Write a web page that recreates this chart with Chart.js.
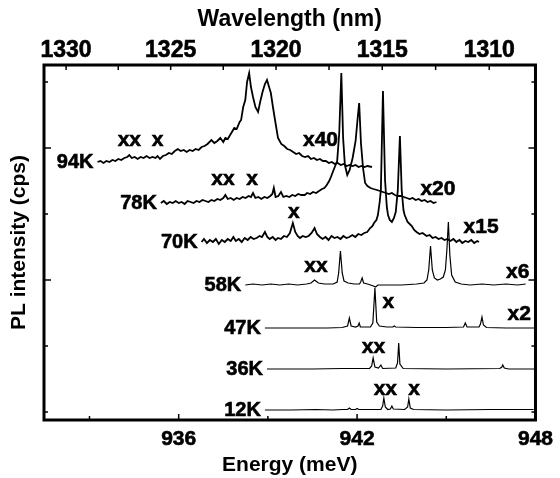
<!DOCTYPE html>
<html>
<head>
<meta charset="utf-8">
<script src="https://cdn.jsdelivr.net/npm/chart.js@4.4.1/dist/chart.umd.min.js"></script>
<style>
  html, body { margin: 0; padding: 0; background: #fff; }
  #wrap { width: 560px; height: 478px; position: relative; }
</style>
</head>
<body>
<div id="wrap"><canvas id="chart"></canvas></div>
<script>
// PL spectra vs temperature, traces stacked with an offset
// energy in meV, intensity in arb. units above each trace's baseline

var temps = ['12K', '36K', '47K', '58K', '70K', '78K', '94K'];
var offsets = [2, 43, 84, 127, 170, 209, 250];

var s12 = [[938.9,0],[939.8,0],[940.6,0.5],[941.2,0],[941.5,0.5],[941.68,0.5],[941.74,2],[941.8,0.5],[941.95,0.5],[942.0,1.5],[942.06,0.5],[942.8,0.5],[942.86,4],[942.9,12],[942.95,3],[943.03,0.5],[943.12,1],[943.17,4],[943.22,1],[943.6,0.5],[943.7,3],[943.74,11],[943.79,2],[943.9,0.5],[945.0,0],[946.5,0.5],[947.94,0.5]];

var s36 = [[938.97,0],[940.5,0],[941.5,0.5],[942.42,0.5],[942.49,3],[942.54,11],[942.6,2],[942.72,1],[942.8,4],[942.86,0.5],[943.3,1],[943.36,6],[943.4,26],[943.44,5],[943.55,0.5],[945.0,0],[946.8,0.5],[946.87,2],[946.9,4],[946.95,1],[947.1,0],[948,0]];

var s47 = [[938.9,0],[940.0,0],[941.0,0],[941.5,0.5],[941.68,2],[941.74,10],[941.8,2],[941.95,1],[942.03,2],[942.07,5],[942.11,1],[942.45,1],[942.53,5],[942.6,40],[942.66,6],[942.75,2],[943.0,1],[943.2,1],[943.25,2],[943.3,1],[944.0,0.5],[945.0,0.5],[945.58,1],[945.64,5],[945.7,1],[946.1,1],[946.15,4],[946.2,11],[946.25,3],[946.35,0.5],[947.0,0],[948,0]];

var s58 = [[938.24,0],[938.5,1],[938.8,0],[939.1,1],[939.4,0],[939.7,1],[940.0,0],[940.3,1],[940.45,2],[940.57,5],[940.7,2],[940.9,1],[941.2,1],[941.33,3],[941.38,12],[941.44,34],[941.5,12],[941.56,4],[941.7,2],[941.9,1],[942.08,1],[942.12,3],[942.17,7],[942.22,2],[942.35,1],[942.55,-1],[942.62,-2],[942.7,0],[943.0,0],[943.5,0],[944.0,1],[944.25,2],[944.35,5],[944.41,15],[944.47,39],[944.53,15],[944.6,7],[944.7,5],[944.8,6],[944.9,8],[944.97,15],[945.02,35],[945.07,63],[945.12,30],[945.18,10],[945.3,3],[945.5,1],[945.8,0],[946.2,1],[946.6,0],[947.0,1],[947.4,0],[947.67,1]];

var s70 = [[936.77,0],[936.85,3],[936.95,-1],[937.05,2],[937.15,0],[937.25,3],[937.35,-2],[937.45,2],[937.55,0],[937.65,3],[937.75,1],[937.84,5],[937.92,1],[938.02,3],[938.12,0],[938.22,4],[938.32,2],[938.42,5],[938.52,3],[938.62,4],[938.72,6],[938.8,5],[938.9,10],[938.98,5],[939.06,3],[939.16,5],[939.26,2],[939.34,4],[939.44,3],[939.54,6],[939.64,5],[939.74,9],[939.84,19],[939.92,10],[940.0,6],[940.08,4],[940.17,6],[940.27,5],[940.37,6],[940.47,9],[940.57,14],[940.65,8],[940.75,5],[940.84,3],[940.94,5],[941.04,2],[941.14,6],[941.24,4],[941.34,5],[941.44,3],[941.54,6],[941.64,4],[941.74,5],[941.84,7],[941.94,5],[942.04,8],[942.14,7],[942.24,9],[942.34,10],[942.44,14],[942.52,16],[942.57,19],[942.65,22],[942.7,27],[942.76,40],[942.8,52],[942.87,151],[942.94,62],[943.0,35],[943.04,27],[943.1,22],[943.17,20],[943.24,24],[943.3,30],[943.37,52],[943.44,106],[943.5,52],[943.56,32],[943.6,27],[943.7,20],[943.84,16],[943.92,12],[944.0,10],[944.1,8],[944.2,9],[944.34,6],[944.44,7],[944.54,4],[944.64,5],[944.74,3],[944.84,4],[944.94,2],[945.04,3],[945.14,1],[945.24,3],[945.34,0],[945.44,2],[945.54,-1],[945.64,1],[945.74,0],[945.84,2],[945.94,-1],[946.04,1],[946.1,0]];

var s78 = [[935.4,0],[935.5,2],[935.6,-1],[935.7,1],[935.8,0],[935.9,2],[936.0,0],[936.1,1],[936.2,-1],[936.3,2],[936.4,1],[936.5,0],[936.6,2],[936.7,1],[936.8,3],[936.9,2],[937.0,1],[937.1,3],[937.2,2],[937.3,4],[937.4,3],[937.5,5],[937.57,8],[937.65,4],[937.75,5],[937.85,3],[937.95,5],[938.05,4],[938.15,6],[938.25,5],[938.35,7],[938.43,6],[938.5,10],[938.58,5],[938.68,6],[938.78,4],[938.88,6],[938.98,5],[939.08,7],[939.15,9],[939.2,15],[939.26,6],[939.35,7],[939.44,11],[939.52,6],[939.62,7],[939.72,6],[939.82,8],[939.92,7],[940.02,9],[940.12,8],[940.24,8],[940.32,10],[940.42,9],[940.52,11],[940.62,10],[940.72,12],[940.82,14],[940.9,15],[940.98,18],[941.06,22],[941.12,26],[941.17,30],[941.25,36],[941.33,42],[941.4,70],[941.47,130],[941.53,65],[941.59,38],[941.67,28],[941.75,33],[941.85,45],[941.95,62],[942.02,85],[942.07,100],[942.13,60],[942.2,35],[942.27,20],[942.35,17],[942.45,15],[942.55,14],[942.67,13],[942.77,12],[942.87,11],[942.97,10],[943.07,9],[943.17,10],[943.27,8],[943.37,7],[943.47,7],[943.57,6],[943.67,5],[943.77,4],[943.87,5],[943.97,3],[944.07,4],[944.17,2],[944.27,3],[944.37,1],[944.47,2],[944.57,0],[944.67,1]];

var s94 = [[933.27,0],[933.37,1],[933.47,-1],[933.57,1],[933.67,0],[933.77,2],[933.87,1],[933.97,3],[934.07,2],[934.17,4],[934.27,5],[934.34,7],[934.42,4],[934.52,5],[934.62,3],[934.72,5],[934.82,4],[934.92,6],[935.02,4],[935.12,5],[935.22,4],[935.29,6],[935.37,3],[935.47,6],[935.57,7],[935.67,9],[935.77,8],[935.87,11],[935.97,13],[936.07,11],[936.17,12],[936.27,10],[936.37,12],[936.47,11],[936.57,13],[936.67,12],[936.77,15],[936.87,16],[936.97,18],[937.1,22],[937.2,19],[937.3,21],[937.4,24],[937.5,20],[937.57,24],[937.65,23],[937.75,28],[937.87,34],[937.95,33],[938.05,40],[938.1,42],[938.17,55],[938.24,62],[938.3,80],[938.37,89],[938.43,75],[938.5,65],[938.58,55],[938.67,50],[938.74,60],[938.82,70],[938.9,78],[938.97,82],[939.04,75],[939.1,69],[939.17,55],[939.24,42],[939.34,24],[939.45,18],[939.55,16],[939.65,13],[939.75,12],[939.85,10],[939.95,8],[940.05,9],[940.15,6],[940.25,5],[940.35,6],[940.45,3],[940.55,4],[940.65,2],[940.75,3],[940.85,1],[940.95,1],[941.05,-1],[941.15,0],[941.25,-2],[941.35,-1],[941.45,-3],[941.55,-2],[941.65,-4],[941.75,-3],[941.85,-4],[941.95,-3],[942.05,-5],[942.15,-4],[942.25,-5],[942.35,-4],[942.5,-5]];

var spectra = [s12, s36, s47, s58, s70, s78, s94];
var noisy = [false, false, false, false, true, true, true];

// axis ticks
var energyTicks = [933, 936, 939, 942, 945, 948];
var energyLabels = [936, 942, 948];
var wlTicks = [1330, 1327.5, 1325, 1322.5, 1320, 1317.5, 1315, 1312.5, 1310];
var wlLabels = [1330, 1325, 1320, 1315, 1310];
var yTicks = [0, 66, 132, 198, 264, 330];
var yMajor = [132, 264];

// peak annotations (XX = biexciton, X = exciton) and scale factors
var notes = [
  { t: 'xx', e: 934.34, y: 266 }, { t: 'x', e: 935.29, y: 266 }, { t: 'x40', e: 940.77, y: 266 },
  { t: 'xx', e: 937.49, y: 227 }, { t: 'x', e: 938.47, y: 227 }, { t: 'x20', e: 944.72, y: 217 },
  { t: 'x', e: 939.87, y: 194 }, { t: 'x15', e: 946.17, y: 179 },
  { t: 'xx', e: 940.62, y: 140 }, { t: 'x6', e: 947.4, y: 134 },
  { t: 'x', e: 943.05, y: 104 }, { t: 'x2', e: 947.45, y: 92 },
  { t: 'xx', e: 942.55, y: 59 },
  { t: 'xx', e: 942.95, y: 17 }, { t: 'x', e: 943.92, y: 17 }
];

var HC = 1239841.98; // meV*nm
var FONT = '"Liberation Sans", Arial, sans-serif';

var datasets = spectra.map(function (s, k) {
  return {
    label: temps[k],
    data: s.map(function (p) { return { x: p[0], y: offsets[k] + p[1] }; }),
    borderColor: '#000',
    borderWidth: noisy[k] ? 1.8 : 1.2,
    pointRadius: 0,
    tension: 0,
    fill: false
  };
});

function heavyText(ctx, txt, x, y) {
  ctx.fillText(txt, x, y);
  ctx.strokeText(txt, x, y);
}

var decor = {
  id: 'decor',
  afterDraw: function (chart) {
    var ctx = chart.ctx, a = chart.chartArea, sc = chart.scales;
    ctx.save();
    ctx.strokeStyle = '#000';
    ctx.lineWidth = 1.5;
    // inward ticks
    sc.x.ticks.forEach(function (t) {
      var p = sc.x.getPixelForValue(t.value);
      var len = energyLabels.indexOf(t.value) >= 0 ? 6 : 4;
      ctx.beginPath(); ctx.moveTo(p, a.bottom); ctx.lineTo(p, a.bottom - len); ctx.stroke();
    });
    sc.x2.ticks.forEach(function (t) {
      var p = sc.x2.getPixelForValue(t.value);
      ctx.beginPath(); ctx.moveTo(p, a.top); ctx.lineTo(p, a.top + 5); ctx.stroke();
    });
    sc.y.ticks.forEach(function (t) {
      var p = sc.y.getPixelForValue(t.value);
      var len = yMajor.indexOf(t.value) >= 0 ? 7 : 4;
      ctx.beginPath(); ctx.moveTo(a.left, p); ctx.lineTo(a.left + len, p); ctx.stroke();
      ctx.beginPath(); ctx.moveTo(a.right, p); ctx.lineTo(a.right - len, p); ctx.stroke();
    });
    // frame
    ctx.lineWidth = 3;
    ctx.strokeRect(a.left, a.top, a.right - a.left, a.bottom - a.top);

    ctx.fillStyle = '#000';
    ctx.lineWidth = 0.6;
    // temperature labels, left of each trace start
    ctx.font = 'bold 20px ' + FONT;
    ctx.textAlign = 'right';
    ctx.textBaseline = 'middle';
    spectra.forEach(function (s, k) {
      heavyText(ctx, temps[k], sc.x.getPixelForValue(s[0][0]) - 4, sc.y.getPixelForValue(offsets[k]));
    });
    // peak notes
    ctx.font = 'bold 21px ' + FONT;
    ctx.textAlign = 'center';
    ctx.textBaseline = 'alphabetic';
    notes.forEach(function (n) {
      heavyText(ctx, n.t, sc.x.getPixelForValue(n.e), sc.y.getPixelForValue(n.y));
    });
    ctx.restore();
  }
};

var botTickFont = { family: FONT, size: 21, weight: 'bold' };
var topTickFont = { family: FONT, size: 23, weight: 'bold' };

new Chart(document.getElementById('chart'), {
  type: 'line',
  data: { datasets: datasets },
  options: {
    responsive: true,
    maintainAspectRatio: false,
    animation: false,
    layout: { padding: 0 },
    plugins: { legend: { display: false }, tooltip: { enabled: false } },
    scales: {
      x: {
        type: 'linear', position: 'bottom', min: 931.47, max: 948,
        afterBuildTicks: function (s) { s.ticks = energyTicks.map(function (v) { return { value: v }; }); },
        afterFit: function (s) { s.height = 58; },
        grid: { display: false, drawTicks: false },
        border: { display: false },
        ticks: {
          autoSkip: false, maxRotation: 0, padding: 7, color: '#000', font: botTickFont,
          textStrokeColor: '#000', textStrokeWidth: 0.6,
          callback: function (v) { return energyLabels.indexOf(v) >= 0 ? String(v) : ''; }
        },
        title: { display: true, text: 'Energy (meV)', color: '#000', font: { family: FONT, size: 21, weight: 'bold' }, padding: { top: 0, bottom: 0 } }
      },
      x2: {
        type: 'linear', position: 'top', min: 931.47, max: 948,
        afterBuildTicks: function (s) { s.ticks = wlTicks.map(function (w) { return { value: HC / w }; }); },
        afterFit: function (s) { s.height = 65; },
        grid: { display: false, drawTicks: false },
        border: { display: false },
        ticks: {
          autoSkip: false, maxRotation: 0, padding: 1, color: '#000', font: topTickFont,
          textStrokeColor: '#000', textStrokeWidth: 0.6,
          callback: function (v) {
            var w = Math.round(HC / v * 2) / 2;
            return wlLabels.indexOf(w) >= 0 ? String(w) : '';
          }
        },
        title: { display: true, text: 'Wavelength (nm)', color: '#000', font: { family: FONT, size: 23, weight: 'bold' }, padding: { top: 6, bottom: 0 } }
      },
      y: {
        type: 'linear', position: 'left', min: -8, max: 347,
        afterBuildTicks: function (s) { s.ticks = yTicks.map(function (v) { return { value: v }; }); },
        afterFit: function (s) { s.width = 44; },
        grid: { display: false, drawTicks: false },
        border: { display: false },
        ticks: { display: false },
        title: { display: true, text: 'PL intensity (cps)', color: '#000', font: { family: FONT, size: 21, weight: 'bold' }, padding: { top: 7, bottom: 0 } }
      },
      y2: {
        type: 'linear', position: 'right', min: -8, max: 347,
        afterFit: function (s) { s.width = 20; },
        grid: { display: false, drawTicks: false },
        border: { display: false },
        ticks: { display: false }
      }
    }
  },
  plugins: [decor]
});
</script>
</body>
</html>
